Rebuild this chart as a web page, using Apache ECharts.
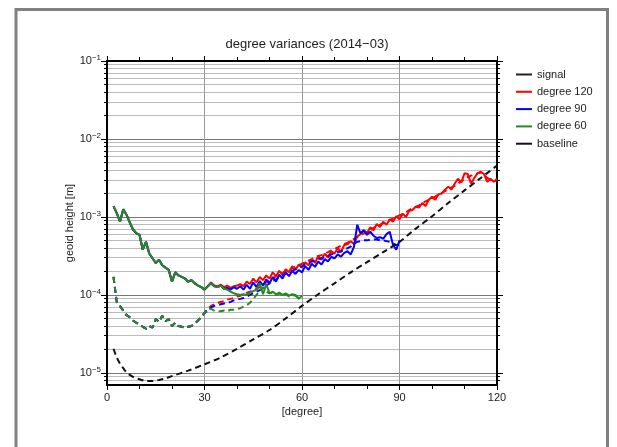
<!DOCTYPE html>
<html><head><meta charset="utf-8">
<script src="https://cdn.jsdelivr.net/npm/echarts@6/dist/echarts.min.js"></script>
<style>html,body{margin:0;padding:0;background:#fff}#c{width:617px;height:447px}</style>
</head><body><div id="c"></div>
<script>
// degrees 2..30 (shared by all runs)
const lowSolid = [1.38e-3,1.12e-3,8.7e-4,1.26e-3,1.07e-3,8.5e-4,6.9e-4,6.2e-4,5.9e-4,3.8e-4,4.8e-4,3.4e-4,2.95e-4,2.57e-4,2.82e-4,2.4e-4,2.24e-4,2.09e-4,1.48e-4,1.95e-4,1.78e-4,1.7e-4,1.62e-4,1.48e-4,1.55e-4,1.41e-4,1.32e-4,1.26e-4,1.17e-4];
const lowDashed = [1.7e-4,8.1e-5,7.2e-5,6.3e-5,5.5e-5,5.2e-5,4.7e-5,4.4e-5,4.2e-5,3.9e-5,3.7e-5,4.0e-5,3.8e-5,4.9e-5,4.5e-5,5.4e-5,4.6e-5,4.9e-5,4.0e-5,4.4e-5,4.0e-5,3.9e-5,3.8e-5,3.9e-5,4.0e-5,4.3e-5,4.7e-5,5.2e-5,5.9e-5];
// degrees 31..120
const solid120Tail = [1.29e-4,1.45e-4,1.32e-4,1.29e-4,1.35e-4,1.26e-4,1.32e-4,1.23e-4,1.29e-4,1.32e-4,
 1.38e-4,1.3e-4,1.48e-4,1.38e-4,1.62e-4,1.45e-4,1.7e-4,1.55e-4,1.78e-4,1.62e-4,
 1.95e-4,1.74e-4,2.04e-4,1.82e-4,2.14e-4,1.95e-4,2.34e-4,2.09e-4,2.45e-4,2.24e-4,
 2.63e-4,2.4e-4,2.88e-4,2.57e-4,3.16e-4,2.82e-4,3.39e-4,3.02e-4,3.63e-4,3.39e-4,
 3.98e-4,3.55e-4,4.37e-4,4.47e-4,4.9e-4,4.47e-4,5.62e-4,6.03e-4,6.76e-4,6.17e-4,
 7.41e-4,6.76e-4,8.13e-4,7.41e-4,8.71e-4,7.94e-4,9.33e-4,8.71e-4,1.02e-3,9.33e-4,
 1.1e-3,1.0e-3,1.2e-3,1.23e-3,1.35e-3,1.32e-3,1.51e-3,1.38e-3,1.66e-3,1.82e-3,
 1.66e-3,1.95e-3,2.0e-3,2.24e-3,2.45e-3,2.24e-3,2.69e-3,3.09e-3,2.75e-3,3.63e-3,
 3.55e-3,2.69e-3,3.16e-3,3.63e-3,3.8e-3,3.55e-3,2.82e-3,3.09e-3,2.82e-3,3.09e-3];
const dashed120Tail = [6.61e-5,7.24e-5,7.59e-5,7.94e-5,8.13e-5,8.32e-5,8.71e-5,8.91e-5,9.12e-5,9.55e-5,
 9.77e-5,1.02e-4,1.07e-4,1.1e-4,1.15e-4,1.2e-4,1.26e-4,1.35e-4,1.45e-4,1.55e-4,
 1.62e-4,1.74e-4,1.82e-4,1.91e-4,2.0e-4,2.09e-4,2.19e-4,2.29e-4,2.4e-4,2.51e-4,
 2.63e-4,2.75e-4,2.88e-4,3.02e-4,3.16e-4,3.24e-4,3.39e-4,3.55e-4,3.72e-4,3.89e-4,
 4.07e-4,4.27e-4,4.47e-4,4.68e-4,4.9e-4,5.25e-4,5.5e-4,5.89e-4,6.17e-4,6.46e-4,
 6.76e-4,7.24e-4,7.59e-4,7.94e-4,8.32e-4,8.71e-4,9.12e-4,9.55e-4,1.0e-3,1.05e-3,
 1.1e-3,1.15e-3,1.23e-3,1.29e-3,1.35e-3,1.41e-3,1.51e-3,1.58e-3,1.66e-3,1.74e-3,
 1.82e-3,1.95e-3,2.04e-3,2.14e-3,2.29e-3,2.4e-3,2.51e-3,2.69e-3,2.88e-3,3.02e-3,
 3.24e-3,3.39e-3,3.47e-3,3.63e-3,3.72e-3,3.47e-3,3.16e-3,3.02e-3,2.88e-3,2.95e-3];
// degrees 31..90
const solid90Tail = [1.29e-4,1.41e-4,1.29e-4,1.26e-4,1.32e-4,1.2e-4,1.23e-4,1.17e-4,1.26e-4,1.2e-4,
 1.29e-4,1.17e-4,1.35e-4,1.2e-4,1.45e-4,1.26e-4,1.51e-4,1.32e-4,1.58e-4,1.41e-4,
 1.7e-4,1.48e-4,1.82e-4,1.62e-4,1.95e-4,1.74e-4,2.04e-4,1.86e-4,2.09e-4,1.95e-4,
 2.34e-4,2.09e-4,2.51e-4,2.29e-4,2.69e-4,2.45e-4,2.88e-4,2.69e-4,3.09e-4,2.95e-4,
 3.31e-4,3.09e-4,3.47e-4,3.63e-4,3.31e-4,4.17e-4,7.94e-4,6.17e-4,6.76e-4,5.89e-4,
 6.46e-4,5.75e-4,5.37e-4,5.5e-4,5.25e-4,6.03e-4,6.46e-4,4.37e-4,3.8e-4,5.01e-4];
const dashed90Tail = [6.31e-5,6.92e-5,7.24e-5,7.41e-5,7.59e-5,7.76e-5,7.94e-5,8.13e-5,8.51e-5,8.71e-5,
 8.91e-5,9.12e-5,9.55e-5,1.0e-4,1.05e-4,1.1e-4,1.15e-4,1.23e-4,1.32e-4,1.41e-4,
 1.51e-4,1.58e-4,1.7e-4,1.78e-4,1.86e-4,1.95e-4,2.04e-4,2.14e-4,2.24e-4,2.34e-4,
 2.45e-4,2.57e-4,2.69e-4,2.75e-4,2.88e-4,2.95e-4,3.09e-4,3.16e-4,3.31e-4,3.39e-4,
 3.55e-4,3.63e-4,3.8e-4,3.98e-4,4.17e-4,4.57e-4,4.79e-4,4.9e-4,5.01e-4,5.01e-4,
 5.13e-4,5.13e-4,5.13e-4,5.01e-4,5.01e-4,4.9e-4,4.79e-4,4.57e-4,4.37e-4,4.37e-4];
// degrees 31..60
const solid60Tail = [1.29e-4,1.41e-4,1.29e-4,1.26e-4,1.32e-4,1.2e-4,1.17e-4,1.1e-4,1.05e-4,1.02e-4,
 1.0e-4,1.02e-4,1.0e-4,1.07e-4,1.12e-4,1.17e-4,1.41e-4,1.02e-4,1.38e-4,1.05e-4,
 1.1e-4,1.02e-4,1.07e-4,1.0e-4,1.05e-4,9.8e-5,1.02e-4,1.0e-4,8.9e-5,9.8e-5];
const dashed60Tail = [6.76e-5,6.61e-5,6.31e-5,6.17e-5,6.17e-5,6.31e-5,6.17e-5,6.46e-5,6.46e-5,6.61e-5,
 6.76e-5,7.08e-5,7.41e-5,7.94e-5,8.91e-5,1.0e-4,1.12e-4,1.26e-4,1.1e-4,1.05e-4,
 1.07e-4,1.0e-4,1.05e-4,9.77e-5,1.02e-4,9.55e-5,1.0e-4,9.77e-5,9.12e-5,9.55e-5];
const baselineDeg = [2,3,4,5,6,8,10,12,14,16,18,20,25,30,35,40,45,50,55,60,65,70,75,80,85,90,95,100,105,110,115,120];
const baselineVal = [2.04e-5,1.58e-5,1.32e-5,1.15e-5,1.02e-5,8.9e-6,8.3e-6,7.9e-6,7.9e-6,8.1e-6,8.5e-6,9.1e-6,1.07e-5,1.29e-5,1.58e-5,2.04e-5,2.69e-5,3.55e-5,5.01e-5,7.24e-5,1.02e-4,1.41e-4,1.95e-4,2.63e-4,3.55e-4,4.79e-4,7.08e-4,1.02e-3,1.51e-3,2.19e-3,3.16e-3,4.57e-3];
const yMajor = [1e-5,1e-4,1e-3,1e-2,1e-1];
const yMinor = [8e-6,9e-6,2e-5,3e-5,4e-5,5e-5,6e-5,7e-5,8e-5,9e-5,2e-4,3e-4,4e-4,5e-4,6e-4,7e-4,8e-4,9e-4,2e-3,3e-3,4e-3,5e-3,6e-3,7e-3,8e-3,9e-3,2e-2,3e-2,4e-2,5e-2,6e-2,7e-2,8e-2,9e-2];
const legendNames = ['signal','degree 120','degree 90','degree 60','baseline'];

const FONT = 'Liberation Sans, Arial, sans-serif';
function pts(vals, start){ return vals.map((v,i)=>[start+i, v]); }
function lineS(name, data, color, dashed, extra){
  return Object.assign({name, type:'line', data, showSymbol:false, symbol:'none',
    lineStyle:{color, width:2, type: dashed ? [6,4] : 'solid'}, itemStyle:{color}, animation:false, silent:true}, extra||{});
}
const yLab = {
  customValues: yMajor, fontSize: 11, color:'#222', fontFamily: FONT, margin: 6,
  formatter: v => '{b|10}{s|\u2212' + Math.round(-Math.log10(v)) + '}',
  rich: { b:{fontSize:11, color:'#222', fontFamily:FONT}, s:{fontSize:8, color:'#222', fontFamily:FONT, padding:[0,0,7,0]} }
};
function yAx(pos, ticks, len, split, splitColor, labels){
  return {type:'log', logBase:10, min:7e-6, max:0.1, position:pos,
    axisLine:{show:true, onZero:false, lineStyle:{color:'#000', width:2}},
    axisTick:{show:true, customValues:ticks, length:len, inside:false, lineStyle:{color:'#000', width:1}},
    splitLine:{show:split, customValues:ticks, lineStyle:{color:splitColor, width:1}},
    axisLabel: labels ? yLab : {show:false}
  };
}
const chart = echarts.init(document.getElementById('c'), null, {renderer:'canvas'});
chart.setOption({
  animation:false,
  backgroundColor:'#fff',
  graphic:[{type:'rect', shape:{x:16, y:9.5, width:591.5, height:460}, style:{fill:'none', stroke:'#808080', lineWidth:3}, silent:true, z:-1}],
  title:{text:'degree variances (2014\u221203)', left:302, textAlign:'center', top:33,
    textStyle:{fontSize:13, fontWeight:'normal', color:'#222', fontFamily:FONT}},
  legend:{data:legendNames.map(n=>({name:n, icon:'rect'})), orient:'vertical', left:511, top:63,
    itemWidth:16, itemHeight:2, itemGap:4.3, textStyle:{fontSize:11, color:'#222', fontFamily:FONT, lineHeight:13}},
  grid:{left:107, right:120, top:61, bottom:62, containLabel:false},
  xAxis:[
    {type:'value', min:0, max:120, interval:30, position:'bottom',
      name:'[degree]', nameLocation:'middle', nameGap:21, nameMoveOverlap:false, nameTextStyle:{fontSize:11, color:'#222', fontFamily:FONT},
      axisLine:{onZero:false, lineStyle:{color:'#000', width:2}},
      axisTick:{length:5, lineStyle:{color:'#000'}}, minorTick:{show:true, splitNumber:3, length:4, lineStyle:{color:'#000'}},
      splitLine:{show:true, lineStyle:{color:'#999', width:1}},
      axisLabel:{fontSize:11, color:'#222', fontFamily:FONT, margin:7}},
    {type:'value', min:0, max:120, interval:30, position:'top',
      axisLine:{onZero:false, lineStyle:{color:'#000', width:2}},
      axisTick:{length:5, lineStyle:{color:'#000'}}, minorTick:{show:true, splitNumber:3, length:4, lineStyle:{color:'#000'}},
      splitLine:{show:false}, axisLabel:{show:false}}
  ],
  yAxis:[
    Object.assign(yAx('left', yMajor, 6, true, '#777', true), {name:'geoid height [m]', nameLocation:'middle', nameGap:32, nameMoveOverlap:false, nameRotate:90,
      nameTextStyle:{fontSize:11, color:'#222', fontFamily:FONT}}),
    yAx('left', yMinor, 3, true, '#bbb', false),
    yAx('right', yMajor, 6, false, '#777', false),
    yAx('right', yMinor, 3, false, '#bbb', false)
  ],
  series:[
    lineS('signal', [], '#222', false),
    lineS('degree 120', pts(lowSolid.concat(solid120Tail), 2), '#ff0000', false),
    lineS('degree 120', pts(lowDashed.concat(dashed120Tail), 2), '#ff0000', true),
    lineS('degree 90', pts(lowSolid.concat(solid90Tail), 2), '#0000ff', false),
    lineS('degree 90', pts(lowDashed.concat(dashed90Tail), 2), '#0000ff', true),
    lineS('degree 60', pts(lowSolid.concat(solid60Tail), 2), '#228b22', false),
    lineS('degree 60', pts(lowDashed.concat(dashed60Tail), 2), '#228b22', true),
    lineS('baseline', baselineDeg.map((d,i)=>[d, baselineVal[i]]), '#111', true, {smooth:0.3})
  ]
});
</script></body></html>
